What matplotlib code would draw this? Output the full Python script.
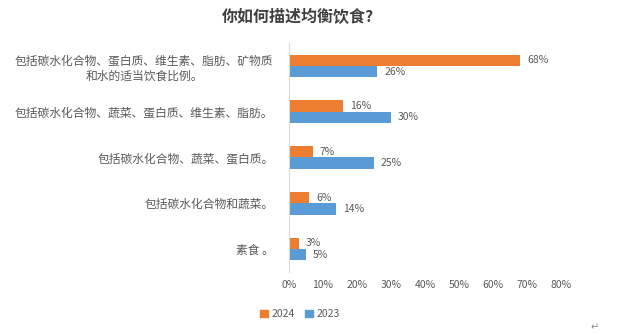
import numpy as np
import matplotlib
matplotlib.use("Agg")
import matplotlib.pyplot as plt
from matplotlib.patches import Patch

plt.rcParams['font.family'] = ['Noto Sans CJK SC', 'DejaVu Sans']

categories = [
    "包括碳水化合物、蛋白质、维生素、脂肪、矿物质\n和水的适当饮食比例。",
    "包括碳水化合物、蔬菜、蛋白质、维生素、脂肪。",
    "包括碳水化合物、蔬菜、蛋白质。",
    "包括碳水化合物和蔬菜。",
    "素食 。",
]
values_2024 = [68, 16, 7, 6, 3]
values_2023 = [26, 30, 25, 14, 5]
xticks = [0, 10, 20, 30, 40, 50, 60, 70, 80]

ORANGE = "#ED7D31"
BLUE = "#5B9BD5"
TEXT = "#595959"

fig = plt.figure(figsize=(6.32, 3.34), dpi=100)
ax = fig.add_axes([0.457, 0.186, 0.431, 0.685])

y = np.arange(len(categories))
h = 0.25
ax.barh(y - h / 2, values_2024, height=h, color=ORANGE)
ax.barh(y + h / 2, values_2023, height=h, color=BLUE)

# value labels just right of each bar
for yi, v in zip(y, values_2024):
    ax.text(v + 2, yi - h / 2, f"{v}%", va="center", ha="left", fontsize=7.5, color=TEXT)
for yi, v in zip(y, values_2023):
    ax.text(v + 2, yi + h / 2, f"{v}%", va="center", ha="left", fontsize=7.5, color=TEXT)

ax.set_ylim(len(categories) - 0.5, -0.5)
ax.set_xlim(0, 80)
ax.set_xticks(xticks)
ax.set_xticklabels([f"{t}%" for t in xticks], fontsize=7.5, color=TEXT)
ax.set_yticks(y)
ax.set_yticklabels(categories, fontsize=8.5, color=TEXT, multialignment="center")
ax.tick_params(axis="both", length=0)
ax.tick_params(axis="y", pad=11)
ax.tick_params(axis="x", pad=6)

for s in ["top", "right", "bottom"]:
    ax.spines[s].set_visible(False)
ax.spines["left"].set_color("#d9d9d9")

fig.text(0.472, 0.948, "你如何描述均衡饮食?", ha="center", va="center",
         fontsize=11.5, fontweight="bold", color="#404040")

handles = [Patch(color=ORANGE, label="2024"), Patch(color=BLUE, label="2023")]
fig.legend(handles=handles, loc="center", bbox_to_anchor=(0.475, 0.06), ncol=2,
           frameon=False, fontsize=7.5, labelcolor=TEXT, handlelength=0.7,
           handleheight=0.7, handletextpad=0.4, columnspacing=1.0)

fig.text(0.94, 0.02, "↵", fontsize=7, color="#888888", ha="center", va="center")

fig.savefig("out.png", dpi=100)
